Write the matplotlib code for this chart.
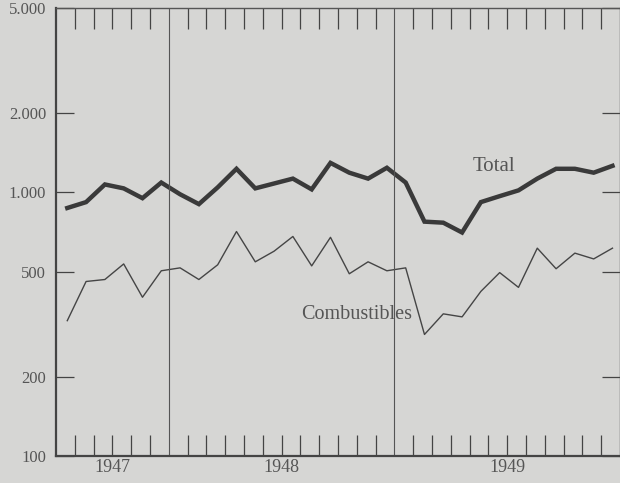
import matplotlib.pyplot as plt
import matplotlib.ticker as mticker
import numpy as np

# monthly figures, July 1947 - December 1949
months = np.arange(30) + 0.6
total = [872, 918, 1071, 1035, 950, 1089, 983, 902, 1044, 1228,
         1035, 1080, 1127, 1026, 1293, 1187, 1127, 1239, 1089, 774,
         767, 704, 918, 967, 1017, 1127, 1228, 1228, 1187, 1260]
combustibles = [326, 459, 467, 535, 400, 504, 517, 467, 531, 710,
                545, 598, 680, 526, 675, 491, 545, 504, 517, 289,
                346, 337, 421, 496, 436, 614, 513, 588, 559, 614]
year_labels = ["1947", "1948", "1949"]
year_centers = [3, 12, 24]
year_breaks = [6, 18]
yticks = [100, 200, 500, 1000, 2000, 5000]

bg = "#d6d6d4"
ink = "#3a3a3a"
txt = "#555555"
plt.rcParams['font.family'] = ['Liberation Serif', 'DejaVu Serif']

fig = plt.figure(figsize=(6.2, 4.83), dpi=100, facecolor=bg)
ax = fig.add_axes([56/620, 27/483, 1 - 56/620, (456-8)/483])
ax.set_facecolor(bg)

ax.plot(months, total, color=ink, lw=3.2, solid_joinstyle='miter')
ax.plot(months, combustibles, color="#454545", lw=1.0)
for b in year_breaks:
    ax.axvline(b, color="#555555", lw=0.8)

ax.set_yscale('log')
ax.set_ylim(100, 5000)
ax.set_xlim(0, 30)

ax.yaxis.set_major_locator(mticker.FixedLocator(yticks))
ax.yaxis.set_minor_locator(mticker.NullLocator())
ax.yaxis.set_major_formatter(mticker.FuncFormatter(lambda v, p: f"{int(v):,}".replace(",", ".")))
ax.tick_params(axis='y', which='major', direction='in', length=13, width=0.9,
               left=True, right=True, labelsize=12, labelcolor=txt, color="#444444", pad=7)

month_ticks = [m for m in range(1, 30) if m not in year_breaks]
ax.xaxis.remove_overlapping_locs = False
ax.xaxis.set_major_locator(mticker.FixedLocator(month_ticks))
ax.xaxis.set_major_formatter(mticker.NullFormatter())
ax.xaxis.set_minor_locator(mticker.FixedLocator(year_centers))
ax.xaxis.set_minor_formatter(mticker.FixedFormatter(year_labels))
ax.tick_params(axis='x', which='major', direction='in', length=15, width=0.9,
               top=True, bottom=True, color="#444444")
ax.tick_params(axis='x', which='minor', length=0, top=False, labelsize=13,
               labelcolor=txt, pad=2)

for s in ['left', 'bottom']:
    ax.spines[s].set_linewidth(1.6)
    ax.spines[s].set_color("#444444")
ax.spines['top'].set_linewidth(1.0)
ax.spines['top'].set_color("#555555")
ax.spines['right'].set_linewidth(1.0)
ax.spines['right'].set_color("#555555")

ax.text(23.3, 1250, "Total", fontsize=15, color=txt, ha='center', va='center')
ax.text(16.0, 345, "Combustibles", fontsize=14.5, color=txt, ha='center', va='center')

fig.savefig("out.png", dpi=100, facecolor=bg)
